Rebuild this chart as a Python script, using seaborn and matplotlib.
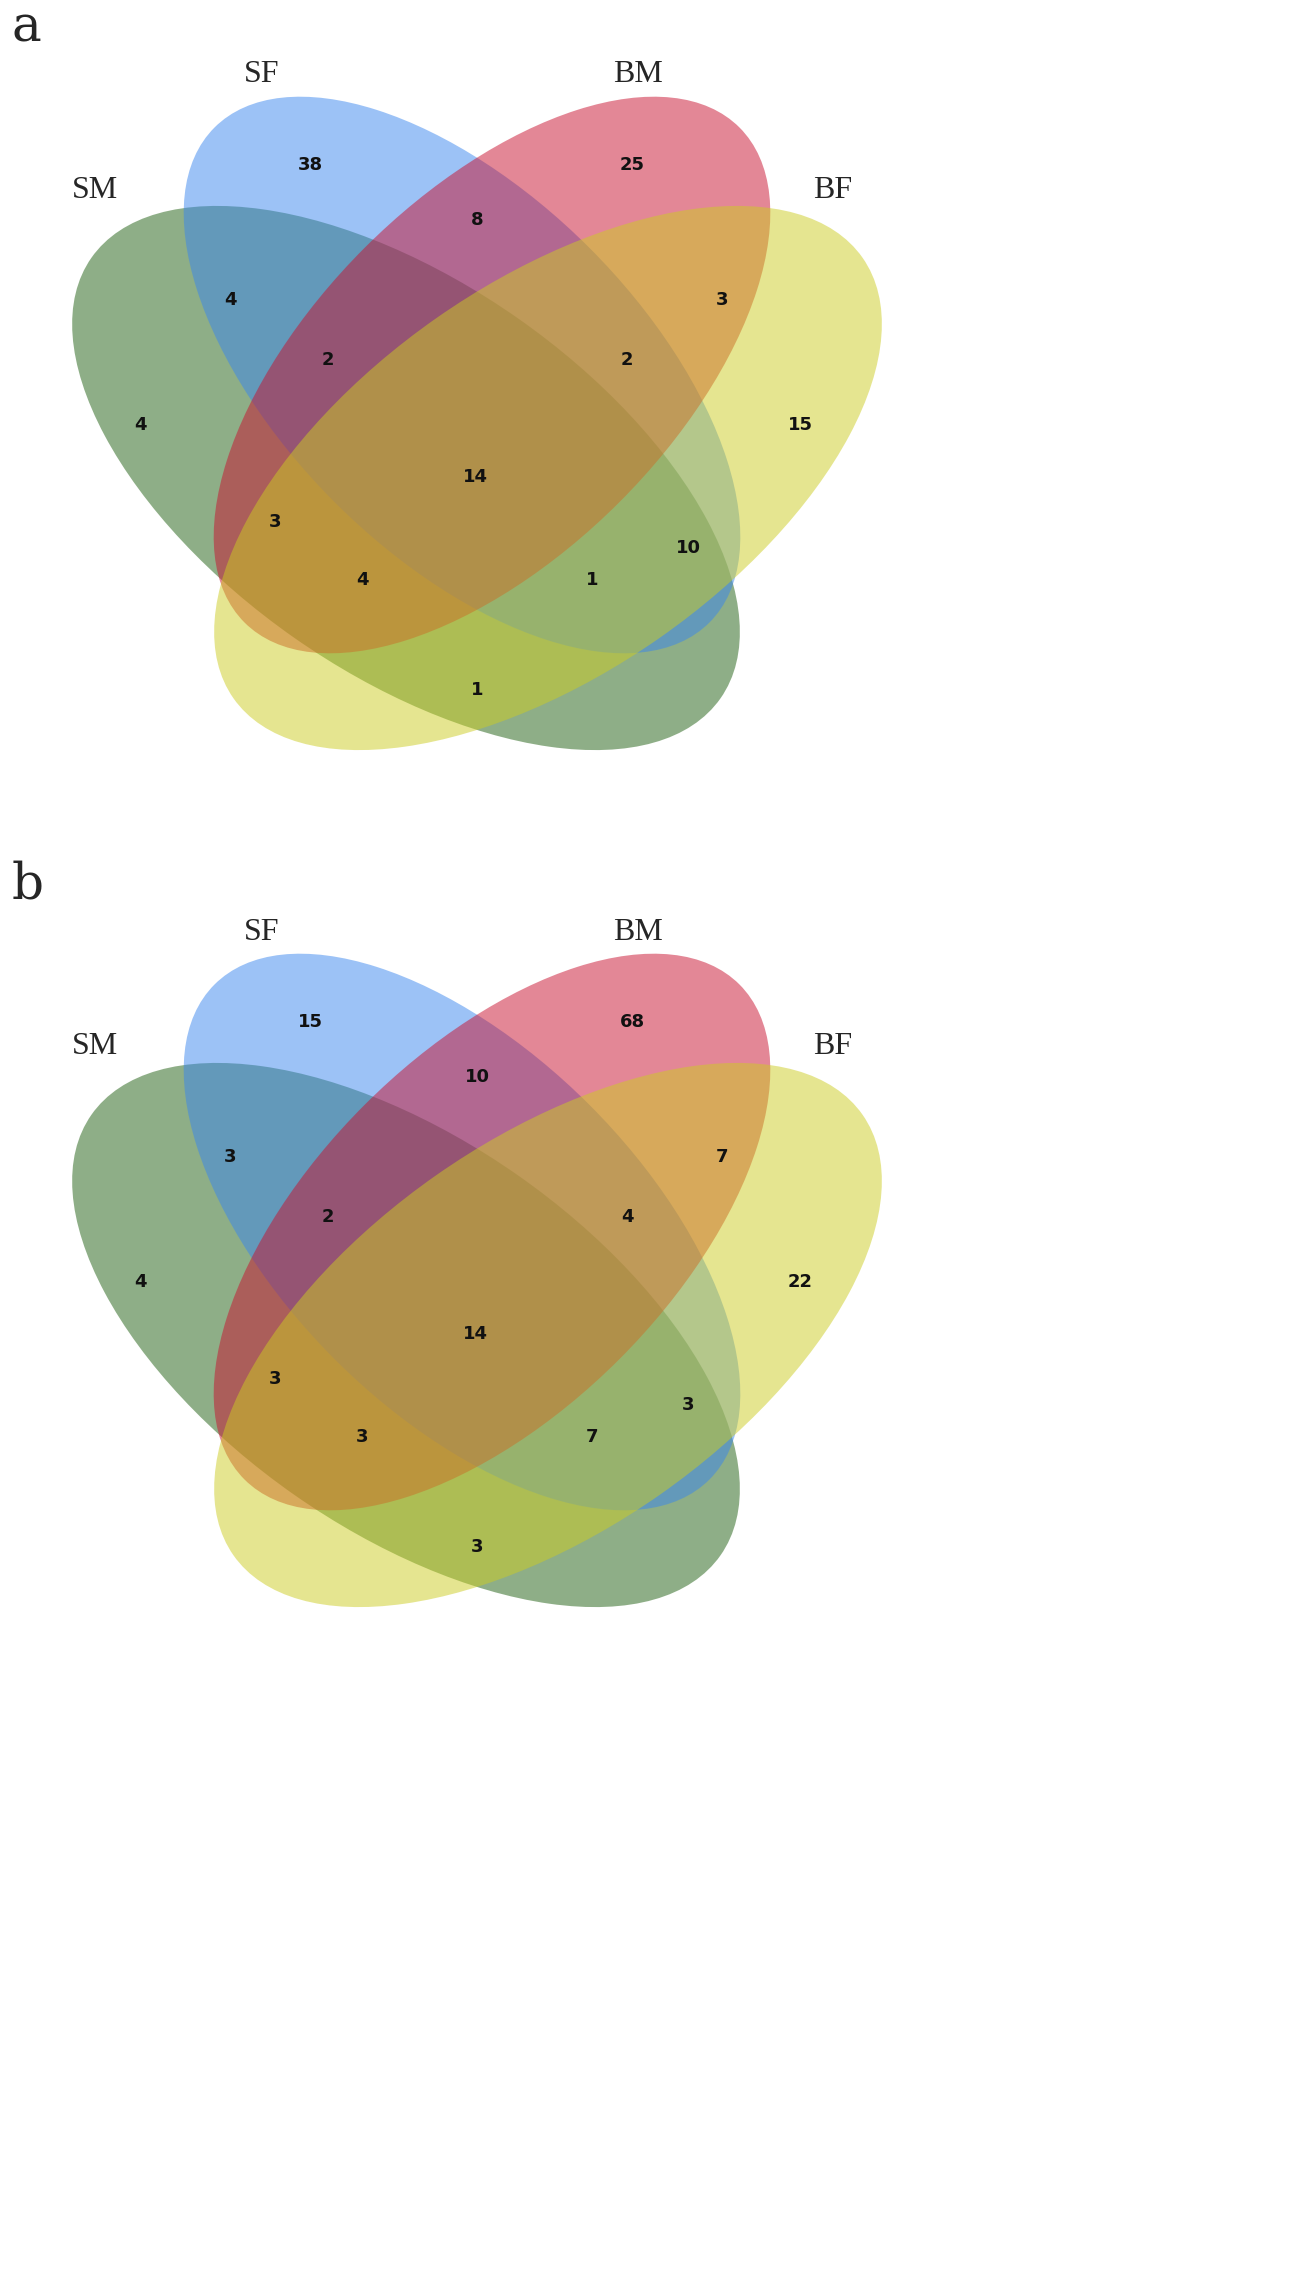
import matplotlib
matplotlib.use("Agg")
import matplotlib.pyplot as plt
from matplotlib.patches import Ellipse
import seaborn as sns

sns.set_theme(style="white")

sets = ["SM", "SF", "BM", "BF"]
set_colors = ["#1f5f10", "#3a86ee", "#c8102e", "#cccc22"]

# region keys in the order of label positions below
regions = ["SF", "BM", "SF&BM", "SM&SF", "BM&BF", "SM", "SM&SF&BM", "SF&BM&BF",
           "BF", "all", "SM&BM", "SF&BF", "SM&BM&BF", "SM&SF&BF", "SM&BF"]
counts_a = [38, 25, 8, 4, 3, 4, 2, 2, 15, 14, 3, 10, 4, 1, 1]
counts_b = [15, 68, 10, 3, 7, 4, 2, 4, 22, 14, 3, 3, 3, 7, 3]

# layout (pixel coordinates of panel a; y axis inverted so angles are flipped)
ellipses = [((406, 478), 768, 390, 35),
            ((462, 375), 700, 360, 45),
            ((492, 375), 700, 360, -45),
            ((548, 478), 768, 390, -35)]
name_pos = [(95, 190), (262, 75), (638, 75), (833, 190)]
region_pos = [(310, 165), (632, 165), (477, 220), (230, 300), (722, 300),
              (140, 425), (328, 360), (627, 360), (800, 425), (475, 477),
              (275, 522), (688, 548), (362, 580), (592, 580), (477, 690)]

fig = plt.figure(figsize=(13.01, 22.9), dpi=100)
ax = fig.add_axes([0, 0, 1, 1])
ax.set_xlim(0, 1301)
ax.set_ylim(2290, 0)
ax.axis("off")

for letter, counts, dy in [("a", counts_a, 0), ("b", counts_b, 857)]:
    ax.text(12, 28 + dy, letter, fontsize=36, family="DejaVu Serif", va="center")
    for (c, w, h, ang), col in zip(ellipses, set_colors):
        ax.add_patch(Ellipse((c[0], c[1] + dy), w, h, angle=ang,
                             facecolor=col, alpha=0.5, edgecolor="none"))
    for name, (x, y) in zip(sets, name_pos):
        ax.text(x, y + dy, name, fontsize=23, family="Liberation Serif",
                ha="center", va="center")
    for n, (x, y) in zip(counts, region_pos):
        ax.text(x, y + dy, str(n), fontsize=13, fontweight="bold",
                ha="center", va="center", color="#111111")

fig.savefig("out.png", dpi=100)
